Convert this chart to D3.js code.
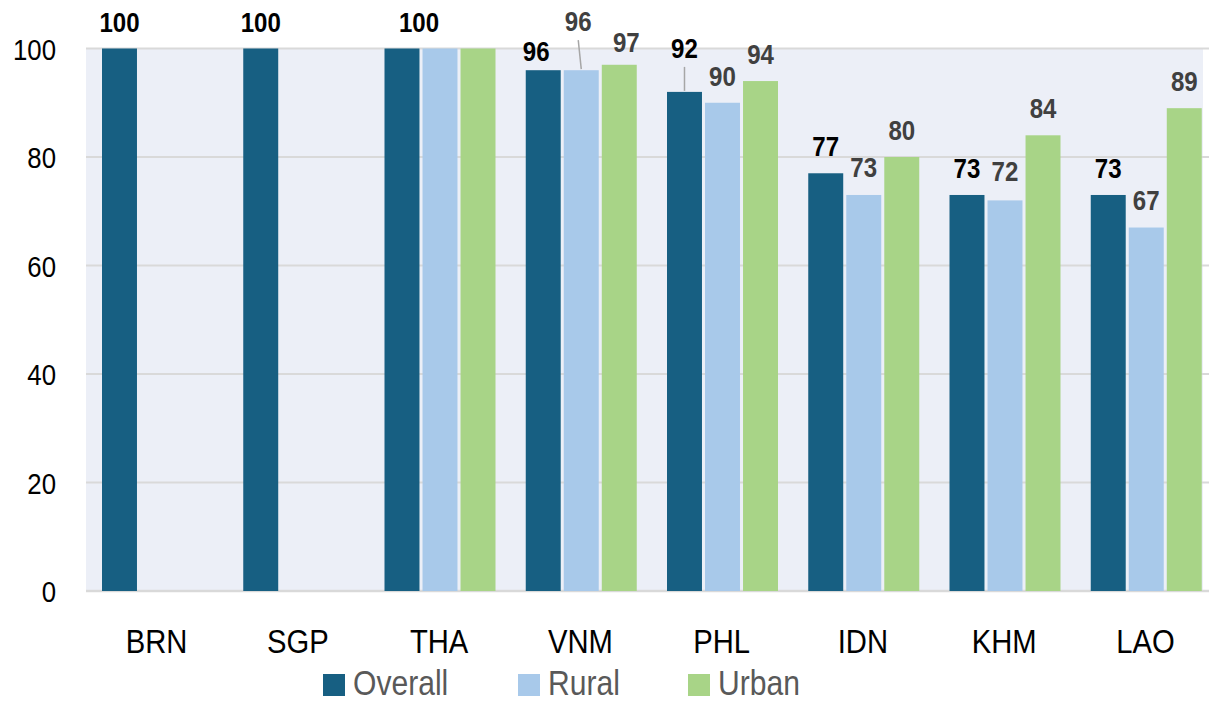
<!DOCTYPE html>
<html>
<head>
<meta charset="utf-8">
<script src="https://cdn.jsdelivr.net/npm/d3@7"></script>
<style>
  body { margin: 0; background: #fff; }
  svg text { font-family: "Liberation Sans", Arial, sans-serif; }
</style>
</head>
<body>
<svg id="chart" width="1209" height="702"></svg>
<script>
// data
var countries = ["BRN", "SGP", "THA", "VNM", "PHL", "IDN", "KHM", "LAO"];
var seriesNames = ["Overall", "Rural", "Urban"];
var overall = [100, 100, 100, 96, 92, 77, 73, 73];
var rural = [null, null, 100, 96, 90, 73, 72, 67];
var urban = [null, null, 100, 97, 94, 80, 84, 89];
var yTicks = [0, 20, 40, 60, 80, 100];

var colors = { Overall: "#175f82", Rural: "#a8c9ea", Urban: "#a8d487" };
var labelColors = { Overall: "#000000", Rural: "#404040", Urban: "#404040" };

// narrow font look: Liberation Sans squeezed horizontally
var squeeze = 0.86;

// label nudges where the original moved labels around
var nudge = {
  "THA-Overall": { dx: 17, dy: 0 },
  "THA-Rural": { hide: true },
  "THA-Urban": { hide: true },
  "VNM-Overall": { dx: -7, dy: 8 },
  "VNM-Rural": { dx: -3, dy: -22, leader: true },
  "VNM-Urban": { dx: 7, dy: 4 },
  "PHL-Overall": { dx: 0, dy: -17, leader: true },
  "IDN-Rural": { dx: 0, dy: -1 },
  "KHM-Rural": { dx: 0, dy: -2 },
  "LAO-Rural": { dx: 0, dy: -1 }
};

var table = [];
countries.forEach(function(c, i) {
  [overall, rural, urban].forEach(function(arr, j) {
    if (arr[i] != null) table.push({ country: c, series: seriesNames[j], value: arr[i] });
  });
});

var svg = d3.select("#chart");
var plotLeft = 86, plotRight = 1216, plotTop = 48.5, plotBottom = 591;

var x0 = d3.scaleBand().domain(countries).range([plotLeft, plotRight]);
var x1 = d3.scaleBand().domain(seriesNames).range([16, 127]).paddingInner(0.08);
var y = d3.scaleLinear().domain([0, 100]).range([plotBottom, plotTop]);

function narrowText(sel, x, yy, anchor) {
  sel.attr("x", 0).attr("y", 0)
    .attr("text-anchor", anchor)
    .attr("transform", "translate(" + x + "," + yy + ") scale(" + squeeze + ",1)");
}

// plot background
svg.append("rect")
  .attr("x", plotLeft).attr("y", plotTop)
  .attr("width", 1203 - plotLeft).attr("height", plotBottom - plotTop)
  .attr("fill", "#eceff7");

// gridlines
svg.append("g").selectAll("line")
  .data(yTicks)
  .join("line")
  .attr("x1", plotLeft).attr("x2", 1209)
  .attr("y1", function(d) { return y(d); })
  .attr("y2", function(d) { return y(d); })
  .attr("stroke", "#d9d9d9")
  .attr("stroke-width", function(d) { return d === 0 ? 2.5 : 2; });

// y axis labels
svg.append("g")
  .attr("transform", "translate(56,0)")
  .call(d3.axisLeft(y).tickValues(yTicks).tickSize(0).tickPadding(0))
  .call(function(g) { g.select(".domain").remove(); })
  .selectAll("text")
  .attr("font-size", 30)
  .attr("fill", "#000")
  .attr("dy", "0.35em")
  .attr("x", 0)
  .attr("transform", "scale(" + squeeze + ",1)");

// x axis labels
svg.append("g")
  .attr("transform", "translate(0,627)")
  .call(d3.axisBottom(x0).tickSize(0).tickPadding(0))
  .call(function(g) { g.select(".domain").remove(); })
  .selectAll("text")
  .attr("font-size", 34)
  .attr("fill", "#000")
  .attr("dy", "0.75em")
  .attr("y", 0)
  .attr("transform", "scale(" + squeeze + ",1)");

// bars
svg.append("g").selectAll("rect")
  .data(table)
  .join("rect")
  .attr("x", function(d) { return x0(d.country) + x1(d.series); })
  .attr("y", function(d) { return y(d.value); })
  .attr("width", x1.bandwidth())
  .attr("height", function(d) { return y(0) - y(d.value); })
  .attr("fill", function(d) { return colors[d.series]; });

// data labels
var lab = svg.append("g");
table.forEach(function(d) {
  var n = nudge[d.country + "-" + d.series] || { dx: 0, dy: 0 };
  if (n.hide) return;
  var cx = x0(d.country) + x1(d.series) + x1.bandwidth() / 2;
  var ty = y(d.value) - 17 + n.dy;
  if (n.leader) {
    lab.append("line")
      .attr("x1", cx + n.dx).attr("y1", ty + 9)
      .attr("x2", cx).attr("y2", y(d.value) - 1)
      .attr("stroke", "#a6a6a6").attr("stroke-width", 1.5);
  }
  lab.append("text")
    .call(narrowText, cx + n.dx, ty, "middle")
    .attr("font-size", 28)
    .attr("font-weight", "bold")
    .attr("fill", labelColors[d.series])
    .text(d.value);
});

// legend
var legendX = [323, 518, 688];
var leg = svg.append("g").selectAll("g")
  .data(seriesNames)
  .join("g")
  .attr("transform", function(d, i) { return "translate(" + legendX[i] + ",674)"; });
leg.append("rect")
  .attr("width", 22).attr("height", 22)
  .attr("fill", function(d) { return colors[d]; });
leg.append("text")
  .each(function() { narrowText(d3.select(this), 30, 21, "start"); })
  .attr("font-size", 35)
  .attr("fill", "#595959")
  .text(function(d) { return d; });
</script>
</body>
</html>
